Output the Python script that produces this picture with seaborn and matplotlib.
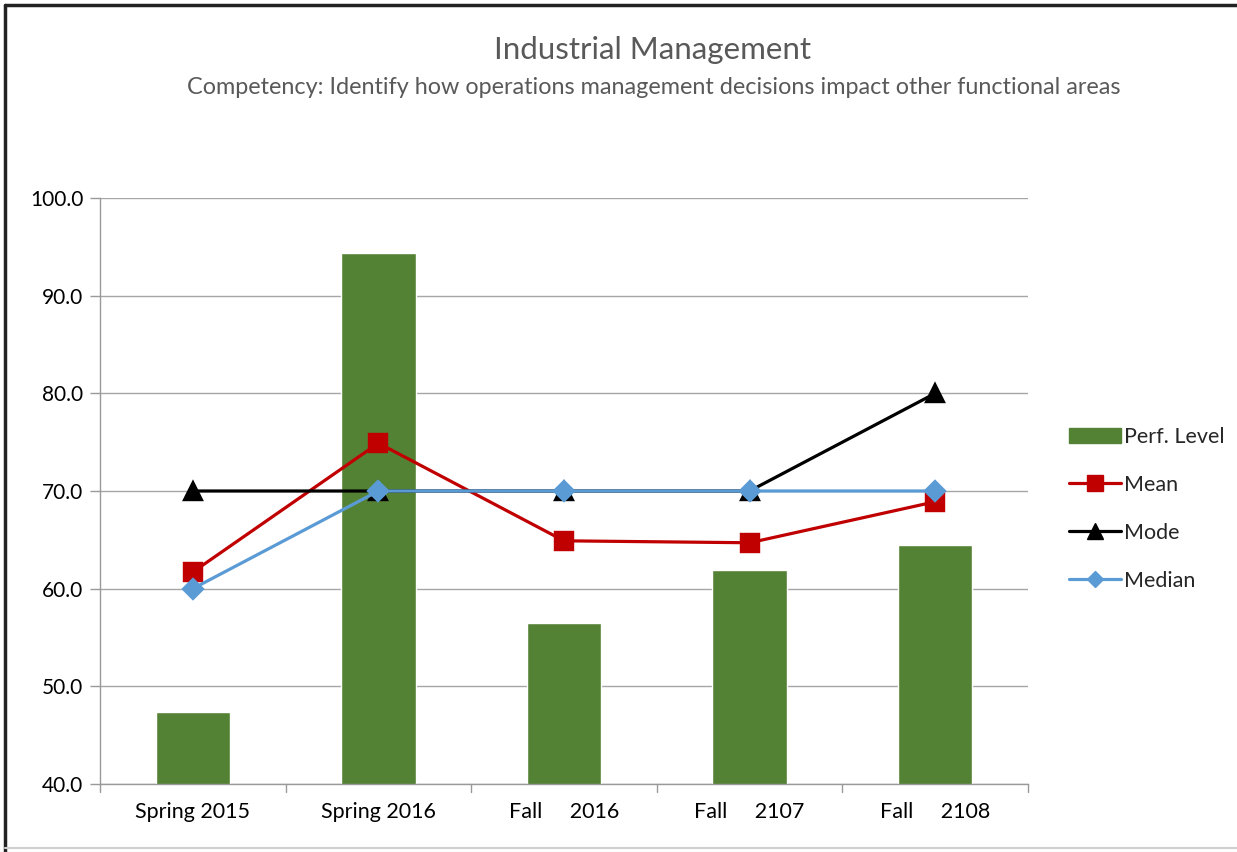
import matplotlib
matplotlib.use("Agg")
import matplotlib.pyplot as plt
import seaborn as sns
import pandas as pd
from matplotlib.lines import Line2D
from matplotlib.patches import Patch

categories = ["Spring 2015", "Spring 2016", "Fall     2016", "Fall     2107", "Fall     2108"]
perf_level = [47.4, 94.4, 56.5, 61.9, 64.5]
mean_vals = [61.7, 74.9, 64.9, 64.7, 68.9]
mode_vals = [70.0, 70.0, 70.0, 70.0, 80.0]
median_vals = [60.0, 70.0, 70.0, 70.0, 70.0]
yticks = [40, 50, 60, 70, 80, 90, 100]

GREEN = "#548235"
RED = "#C00000"
BLUE = "#5B9BD5"
GRAY = "#595959"

sns.set_theme(style="white")
plt.rcParams["font.family"] = ["Lato", "DejaVu Sans"]

fig = plt.figure(figsize=(12.37, 8.52), dpi=100)
ax = fig.add_axes([100/1237, 1-784/852, (1028-100)/1237, (784-198)/852])

df = pd.DataFrame({"cat": categories, "perf": perf_level, "mean": mean_vals,
                   "mode": mode_vals, "median": median_vals})

sns.barplot(data=df, x="cat", y="perf", order=categories, color=GREEN,
            saturation=1, width=0.4, ax=ax, zorder=2)
for col, c, m, ms in [("mean", RED, "s", 13), ("mode", "black", "^", 13), ("median", BLUE, "D", 10)]:
    sns.pointplot(data=df, x="cat", y=col, order=categories, color=c, markers=m,
                  errorbar=None, ax=ax, markersize=ms, linewidth=2.3, zorder=3)

ax.set_ylim(40, 100)
ax.set_xlim(-0.5, 4.5)
ax.set_yticks(yticks)
ax.set_yticklabels([f"{v:.1f}" for v in yticks], fontsize=15, color="black")
ax.set_xlabel("")
ax.set_ylabel("")
ax.tick_params(axis="x", length=0, pad=13, labelsize=15.5, labelcolor="black")
ax.tick_params(axis="y", length=7, width=1, color="#999999", left=True, pad=5)
for b in [-0.5, 0.5, 1.5, 2.5, 3.5, 4.5]:
    ax.plot([b, b], [0, -0.014], transform=ax.get_xaxis_transform(), color="#999999",
            lw=1, clip_on=False)
ax.yaxis.grid(True, color="#a6a6a6", lw=1)
ax.set_axisbelow(True)
for s in ["top", "right"]:
    ax.spines[s].set_visible(False)
for s in ["left", "bottom"]:
    ax.spines[s].set_color("#999999")
    ax.spines[s].set_linewidth(1)

handles = [
    Patch(facecolor=GREEN, edgecolor=GREEN),
    Line2D([], [], color=RED, marker="s", markersize=11, lw=2.3),
    Line2D([], [], color="black", marker="^", markersize=11, lw=2.3),
    Line2D([], [], color=BLUE, marker="D", markersize=8, lw=2.3),
]
labels = ["Perf. Level", "Mean", "Mode", "Median"]
fig.legend(handles, labels, loc="center left", bbox_to_anchor=(1050/1237, 1-509/852),
           frameon=False, fontsize=15.5, labelspacing=1.3, handlelength=2.4,
           handletextpad=0.15)

fig.text(653/1237, 1-50/852, "Industrial Management", ha="center", va="center",
         fontsize=22.5, color=GRAY)
fig.text(654/1237, 1-88/852,
         "Competency: Identify how operations management decisions impact other functional areas",
         ha="center", va="center", fontsize=16.8, color=GRAY)

fig.add_artist(Line2D([0.004, 1.0], [1-5/852, 1-5/852], transform=fig.transFigure, color="#222222", lw=2.5))
fig.add_artist(Line2D([5/1237, 5/1237], [1-5/852, 0.0], transform=fig.transFigure, color="#222222", lw=2.5))
fig.add_artist(Line2D([0.004, 1.0], [4/852, 4/852], transform=fig.transFigure, color="#d0d0d0", lw=1.5))

fig.savefig("out.png", dpi=100)
